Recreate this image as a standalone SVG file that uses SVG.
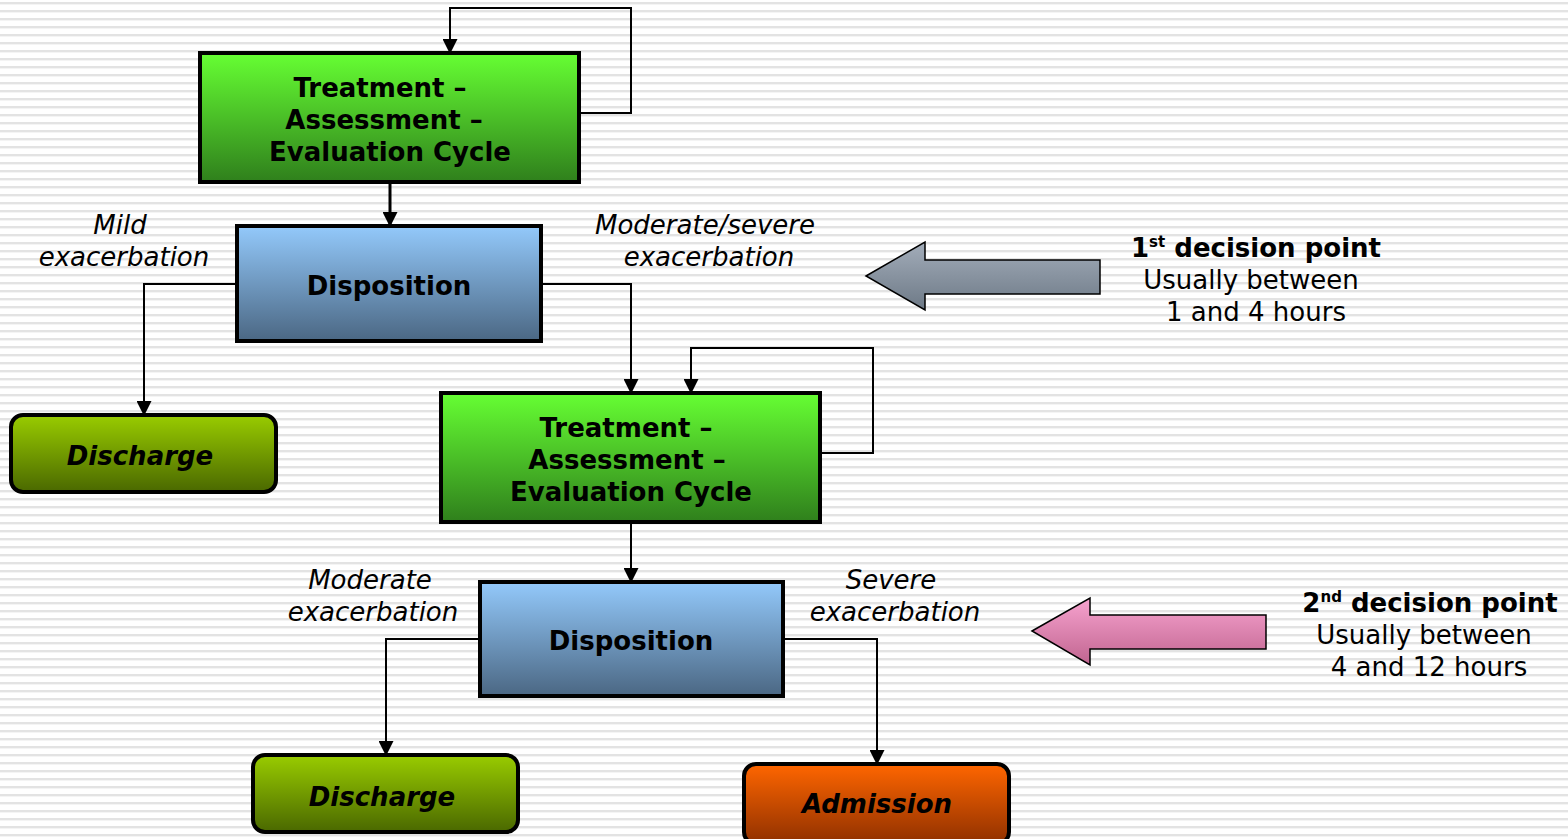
<svg xmlns="http://www.w3.org/2000/svg" width="1568" height="839" viewBox="0 0 1568 839">
<defs>
<pattern id="stripes" x="0" y="0" width="8" height="8" patternUnits="userSpaceOnUse">
<rect width="8" height="8" fill="#ffffff"/>
<rect y="2" width="8" height="2" fill="#e3e3e3"/>
<rect y="4" width="8" height="1" fill="#f4f4f4"/>
</pattern>
<linearGradient id="gGreen" x1="0" y1="0" x2="0" y2="1">
<stop offset="0" stop-color="#66ff33"/><stop offset="1" stop-color="#2f7f1c"/>
</linearGradient>
<linearGradient id="gBlue" x1="0" y1="0" x2="0" y2="1">
<stop offset="0" stop-color="#93c9fb"/><stop offset="1" stop-color="#4b6783"/>
</linearGradient>
<linearGradient id="gOlive" x1="0" y1="0" x2="0" y2="1">
<stop offset="0" stop-color="#99cc00"/><stop offset="1" stop-color="#4a6800"/>
</linearGradient>
<linearGradient id="gOrange" x1="0" y1="0" x2="0" y2="1">
<stop offset="0" stop-color="#ff6600"/><stop offset="1" stop-color="#8f3000"/>
</linearGradient>
<linearGradient id="gGray" x1="0" y1="0" x2="0" y2="1">
<stop offset="0" stop-color="#a3adba"/><stop offset="1" stop-color="#6d7986"/>
</linearGradient>
<linearGradient id="gPink" x1="0" y1="0" x2="0" y2="1">
<stop offset="0" stop-color="#f7a3cf"/><stop offset="1" stop-color="#c0648f"/>
</linearGradient>
<marker id="arr" markerWidth="15" markerHeight="15" refX="14" refY="7.5" orient="auto" markerUnits="userSpaceOnUse" viewBox="0 0 15 15">
<path d="M0,0 L15,7.5 L0,15 Z" fill="#000"/>
</marker>
<style>
.box{stroke:#000;stroke-width:4}
.bt{font-family:"DejaVu Sans",Verdana,sans-serif;font-weight:bold;font-size:26px;fill:#000;text-anchor:middle}
.bi{font-family:"DejaVu Sans",Verdana,sans-serif;font-weight:bold;font-style:italic;font-size:26px;fill:#000;text-anchor:middle}
.lbl{font-family:"DejaVu Sans",Verdana,sans-serif;font-style:italic;font-size:26px;fill:#000;text-anchor:middle}
.dp{font-family:"DejaVu Sans",Verdana,sans-serif;font-size:26px;fill:#000;text-anchor:middle}
.con{fill:none;stroke:#000;stroke-width:2}
.con path{marker-end:url(#arr)}
.con .thick{stroke-width:3}
.big{stroke:#000;stroke-width:1.5}
</style>
</defs>
<rect width="1568" height="839" fill="url(#stripes)"/>

<g id="connectors" class="con">
<path d="M579,113 H631 V8 H450 V53"/>
<path class="thick" d="M390,182 V226"/>
<path d="M237,284 H144 V415"/>
<path d="M541,284 H631 V393"/>
<path d="M820,453 H873 V348 H691 V393"/>
<path d="M631,522 V582"/>
<path d="M480,639 H386 V755"/>
<path d="M783,639 H877 V764"/>
</g>

<g id="tae1">
<rect class="box" x="200" y="53" width="379" height="129" fill="url(#gGreen)"/>
<text class="bt" x="380" y="97">Treatment –</text>
<text class="bt" x="384" y="129">Assessment –</text>
<text class="bt" x="390" y="161">Evaluation Cycle</text>
</g>

<g id="disp1">
<rect class="box" x="237" y="226" width="304" height="115" fill="url(#gBlue)"/>
<text class="bt" x="389" y="295">Disposition</text>
</g>

<g id="discharge1">
<rect class="box" x="11" y="415" width="265" height="77" rx="12" fill="url(#gOlive)"/>
<text class="bi" x="140" y="465">Discharge</text>
</g>

<g id="tae2">
<rect class="box" x="441" y="393" width="379" height="129" fill="url(#gGreen)"/>
<text class="bt" x="626" y="437">Treatment –</text>
<text class="bt" x="627" y="469">Assessment –</text>
<text class="bt" x="631" y="501">Evaluation Cycle</text>
</g>

<g id="disp2">
<rect class="box" x="480" y="582" width="303" height="114" fill="url(#gBlue)"/>
<text class="bt" x="631" y="650">Disposition</text>
</g>

<g id="discharge2">
<rect class="box" x="253" y="755" width="265" height="77" rx="12" fill="url(#gOlive)"/>
<text class="bi" x="382" y="806">Discharge</text>
</g>

<g id="admission">
<rect class="box" x="744" y="764" width="265" height="80" rx="12" fill="url(#gOrange)"/>
<text class="bi" x="877" y="813">Admission</text>
</g>

<g id="labels">
<text class="lbl" x="120" y="234">Mild</text>
<text class="lbl" x="124" y="266">exacerbation</text>
<text class="lbl" x="705" y="234">Moderate/severe</text>
<text class="lbl" x="709" y="266">exacerbation</text>
<text class="lbl" x="370" y="589">Moderate</text>
<text class="lbl" x="373" y="621">exacerbation</text>
<text class="lbl" x="891" y="589">Severe</text>
<text class="lbl" x="895" y="621">exacerbation</text>
</g>

<g id="decision1">
<path class="big" d="M866,276 L925,242 L925,260 L1100,260 L1100,294 L925,294 L925,310 Z" fill="url(#gGray)"/>
<text class="dp" x="1256" y="257"><tspan font-weight="bold">1</tspan><tspan font-weight="bold" font-size="15" dy="-10">st</tspan><tspan font-weight="bold" dy="10"> decision point</tspan></text>
<text class="dp" x="1251" y="289">Usually between</text>
<text class="dp" x="1256" y="321">1 and 4 hours</text>
</g>

<g id="decision2">
<path class="big" d="M1032,631 L1090,598 L1090,615 L1266,615 L1266,649 L1090,649 L1090,665 Z" fill="url(#gPink)"/>
<text class="dp" x="1430" y="612"><tspan font-weight="bold">2</tspan><tspan font-weight="bold" font-size="15" dy="-10">nd</tspan><tspan font-weight="bold" dy="10"> decision point</tspan></text>
<text class="dp" x="1424" y="644">Usually between</text>
<text class="dp" x="1429" y="676">4 and 12 hours</text>
</g>
</svg>
